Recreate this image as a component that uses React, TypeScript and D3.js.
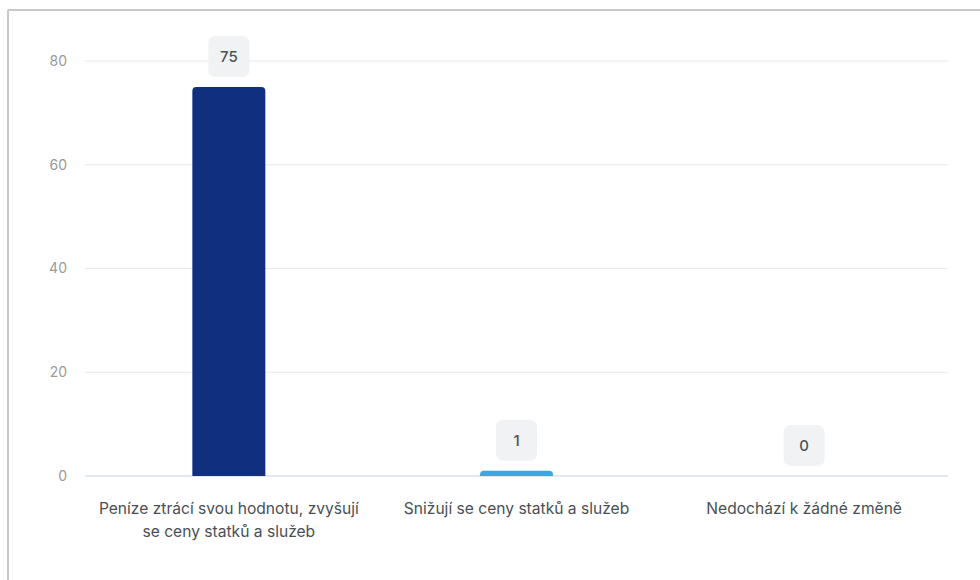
import React from "react";
import * as d3 from "d3";

const categories: string[][] = [
  ["Peníze ztrácí svou hodnotu, zvyšují", "se ceny statků a služeb"],
  ["Snižují se ceny statků a služeb"],
  ["Nedochází k žádné změně"],
];
const values: number[] = [75, 1, 0];
const colors: string[] = ["#10307f", "#3ba6e2", "#3ba6e2"];
const yTicks: number[] = [0, 20, 40, 60, 80];

const W = 980;
const H = 580;
const left = 85;
const right = 948;
const top = 61;
const bottom = 476;

export default function App() {
  const x = d3
    .scaleBand<number>()
    .domain(values.map((_, i) => i))
    .range([left, right]);
  const y = d3.scaleLinear().domain([0, 80]).range([bottom, top]);
  const bw = 73;
  const r = 4;

  const barPath = (x0: number, y0: number, w: number, h: number) => {
    if (h <= 0) return "";
    const rr = Math.min(r, h, w / 2);
    return `M${x0},${y0 + h}V${y0 + rr}Q${x0},${y0} ${x0 + rr},${y0}H${x0 + w - rr}Q${x0 + w},${y0} ${x0 + w},${y0 + rr}V${y0 + h}Z`;
  };

  return (
    <svg
      width={W}
      height={H}
      style={{ position: "absolute", left: 0, top: 0, fontFamily: "Inter, 'Noto Sans', sans-serif" }}
    >
      <rect x={0} y={0} width={W} height={H} fill="#fff" />
      <line x1={8} x2={W} y1={10} y2={10} stroke="#c8c8c8" strokeWidth={2} />
      <line x1={8} x2={8} y1={10} y2={H} stroke="#c8c8c8" strokeWidth={2} />
      {yTicks.map((t) => (
        <g key={t}>
          <line
            x1={left}
            x2={right}
            y1={y(t)}
            y2={y(t)}
            stroke={t === 0 ? "#d9e2f1" : "#e8e8e8"}
            strokeWidth={t === 0 ? 1.5 : 1}
          />
          <text x={67} y={y(t)} dy="0.35em" textAnchor="end" fontSize={14} fill="#9a9a9a">
            {t}
          </text>
        </g>
      ))}
      {values.map((v, i) => {
        const cx = (x(i) as number) + x.bandwidth() / 2;
        const yTop = y(v);
        const h = bottom - yTop;
        const boxBottom = yTop - 10;
        return (
          <g key={i}>
            <path d={barPath(cx - bw / 2, yTop, bw, h)} fill={colors[i]} />
            <rect
              x={cx - 20.5}
              y={boxBottom - 41}
              width={41}
              height={41}
              rx={7}
              fill="#f0f2f3"
            />
            <text
              x={cx}
              y={boxBottom - 20.5}
              dy="0.35em"
              textAnchor="middle"
              fontSize={15}
              fontWeight={500}
              fill="#4d535b"
            >
              {v}
            </text>
            {categories[i].map((line, j) => (
              <text
                key={j}
                x={cx}
                y={514 + j * 23}
                textAnchor="middle"
                fontSize={15.6}
                fill="#4a4f55"
              >
                {line}
              </text>
            ))}
          </g>
        );
      })}
    </svg>
  );
}
